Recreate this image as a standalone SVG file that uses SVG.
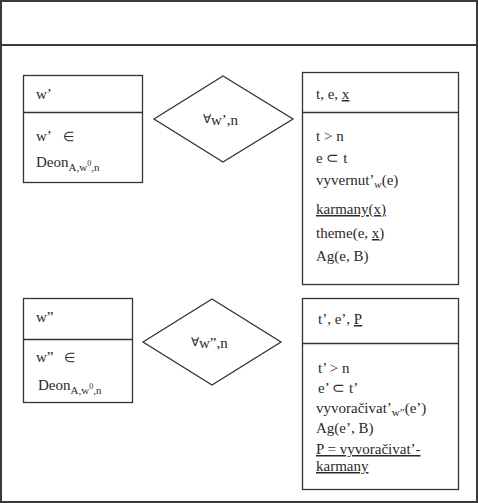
<svg xmlns="http://www.w3.org/2000/svg" width="478" height="503" viewBox="0 0 478 503">
<style>
.s{fill:none;stroke:#333;stroke-width:1.3}
.f{fill:none;stroke:#3a3a3a;stroke-width:2}
text{font-family:"Liberation Serif","Times New Roman",serif;font-size:15px;fill:#2a2a2a}
.sub{font-size:11px}
.u{text-decoration:underline}
</style>
<rect width="478" height="503" fill="#fff"/>
<g id="frame">
<rect class="f" x="1" y="1" width="476" height="501"/>
<line class="f" x1="1" y1="45" x2="477" y2="45"/>
</g>
<g id="box-w1">
<rect class="s" x="23.5" y="75.5" width="119" height="107"/>
<line class="s" x1="23.5" y1="112.5" x2="142.5" y2="112.5"/>
<text x="36" y="99">w’</text>
<text x="36" y="141">w’<tspan x="63" font-size="13">∈</tspan></text>
<text x="36" y="167">Deon<tspan class="sub" dy="4">A,w</tspan><tspan font-size="8" dy="-5">0</tspan><tspan class="sub" dy="5">,n</tspan></text>
</g>
<g id="diamond-1">
<polygon class="s" points="154,119 223,76 293,119 223,162"/>
<text x="203" y="125"><tspan font-size="12" dy="-2">∀</tspan><tspan dy="2">w’,n</tspan></text>
</g>
<g id="box-t1">
<rect class="s" x="302.5" y="72.5" width="156" height="212"/>
<line class="s" x1="302.5" y1="112.5" x2="458.5" y2="112.5"/>
<text x="316" y="99">t, e, <tspan class="u">x</tspan></text>
<text x="316" y="141">t &gt; n</text>
<text x="316" y="163">e ⊂ t</text>
<text x="316" y="185">vyvernut’<tspan class="sub" font-style="italic" dy="3">w</tspan><tspan dy="-3">(e)</tspan></text>
<text x="316" y="214" class="u">karmany(x)</text>
<text x="316" y="238">theme(e, <tspan class="u">x</tspan>)</text>
<text x="316" y="261">Ag(e, B)</text>
</g>
<g id="box-w2">
<rect class="s" x="23.5" y="298.5" width="109" height="104"/>
<line class="s" x1="23.5" y1="339.5" x2="132.5" y2="339.5"/>
<text x="36" y="322">w”</text>
<text x="36" y="362">w”<tspan x="64" font-size="13">∈</tspan></text>
<text x="38" y="390">Deon<tspan class="sub" dy="4">A,w</tspan><tspan font-size="8" dy="-5">0</tspan><tspan class="sub" dy="5">,n</tspan></text>
</g>
<g id="diamond-2">
<polygon class="s" points="143,342 212,299 281,342 212,385"/>
<text x="191" y="348"><tspan font-size="12" dy="-2">∀</tspan><tspan dy="2">w”,n</tspan></text>
</g>
<g id="box-t2">
<rect class="s" x="302.5" y="298.5" width="156" height="191"/>
<line class="s" x1="302.5" y1="343.5" x2="458.5" y2="343.5"/>
<text x="318" y="324">t’, e’, <tspan class="u">P</tspan></text>
<text x="318" y="373">t’ &gt; n</text>
<text x="318" y="393">e’ ⊂ t’</text>
<text x="316" y="413">vyvoračivat’<tspan class="sub" dy="3">w”</tspan><tspan dy="-3">(e’)</tspan></text>
<text x="316" y="433">Ag(e’, B)</text>
<text x="316" y="454" class="u">P = vyvoračivat’-</text>
<text x="316" y="471" class="u">karmany</text>
</g>
</svg>
